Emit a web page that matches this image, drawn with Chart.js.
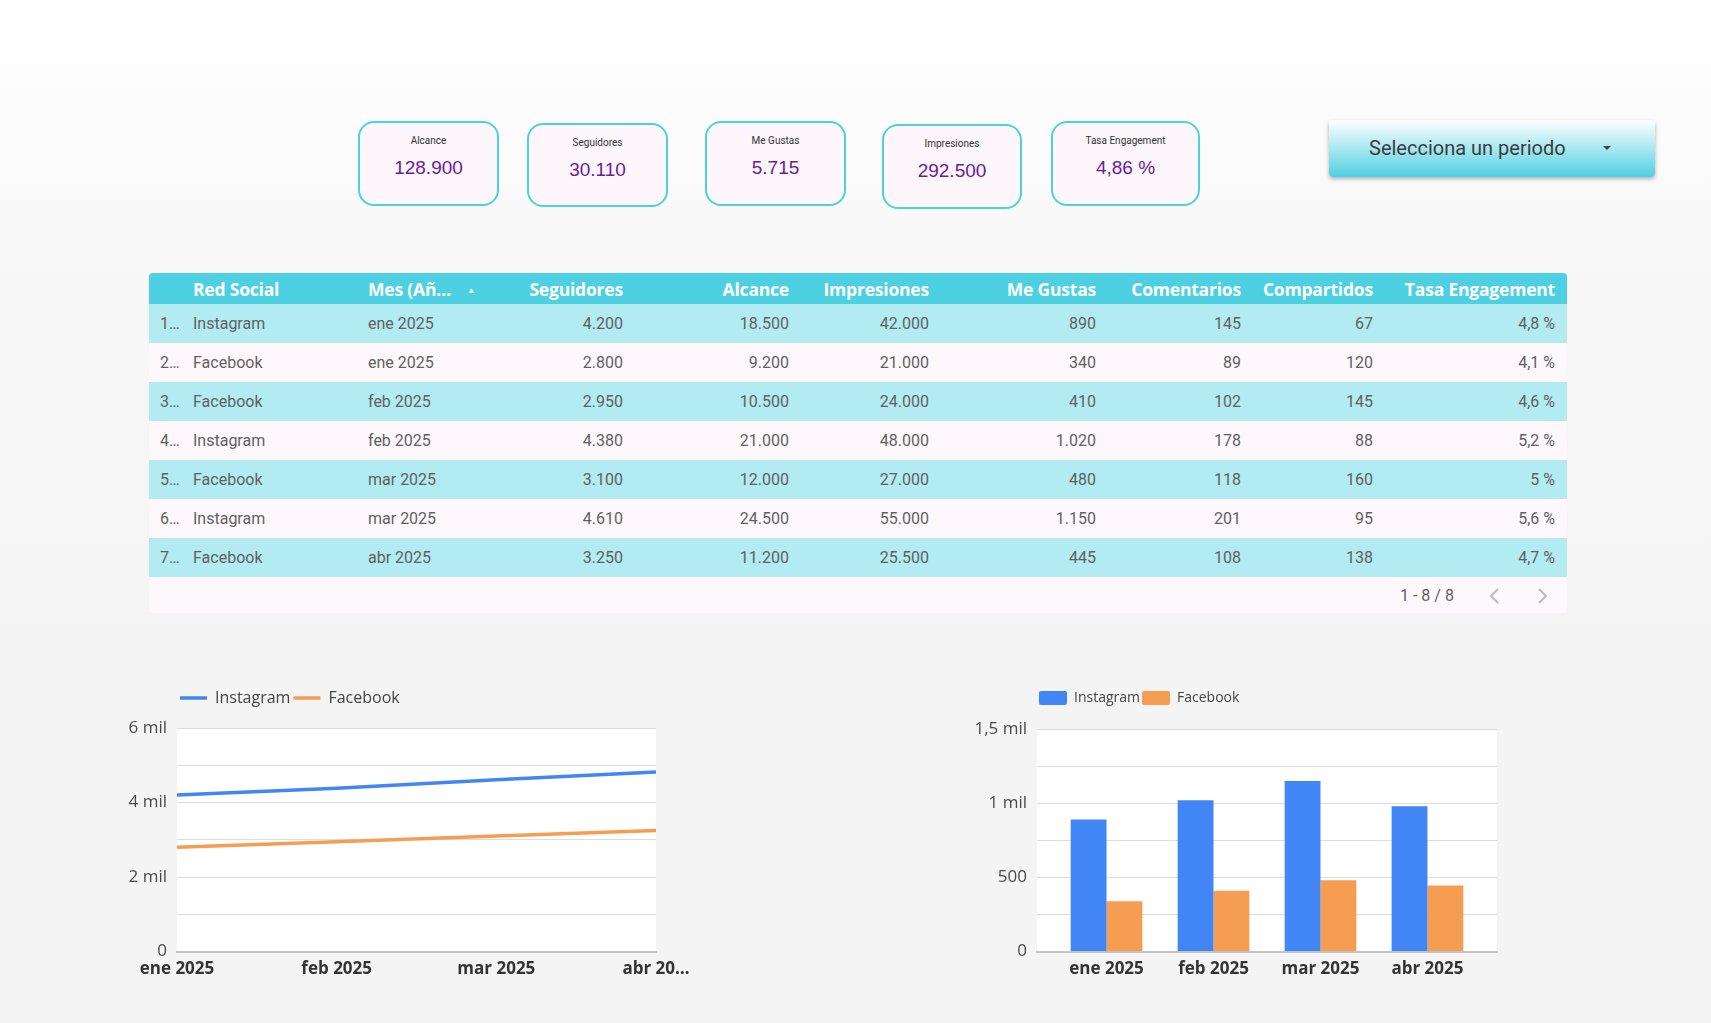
<!DOCTYPE html>
<html lang="es">
<head>
<meta charset="utf-8">
<script src="https://cdn.jsdelivr.net/npm/chart.js@4.4.1/dist/chart.umd.min.js"></script>
<style>
  html, body { margin: 0; padding: 0; }
  body {
    width: 1711px; height: 1023px; position: relative; overflow: hidden;
    background: linear-gradient(#ffffff 0px, #f7f7f7 300px, #f4f4f4 700px);
    font-family: Roboto, "Liberation Sans", sans-serif;
  }
  .kpi {
    position: absolute; box-sizing: border-box;
    border: 2px solid #4dd0e1; border-radius: 16px; background: #fdf6fb;
    text-align: center; color: #333;
  }
  .kpi .lbl { position: absolute; left: 0; right: 0; top: 12px; font-size: 10px; }
  .kpi .val { position: absolute; left: 0; right: 0; top: 34px; font-size: 19px; color: #6a1b9a;
    font-family: "Liberation Sans", Arial, sans-serif; }
  #periodo {
    position: absolute; left: 1329px; top: 120px; width: 326px; height: 57px;
    border-radius: 4px; background: linear-gradient(#ffffff, #4fd0e2);
    box-shadow: 0 2px 4px rgba(0,0,0,0.3);
    font-size: 20px; color: #3c3c3c;
  }
  #periodo span { position: absolute; left: 40px; top: 16px; }
  #periodo i { position: absolute; left: 274px; top: 26px; width: 0; height: 0;
    border-left: 4px solid transparent; border-right: 4px solid transparent; border-top: 4px solid #444; }
  #tabla {
    position: absolute; left: 149px; top: 273px; width: 1418px;
    border-collapse: collapse; font-size: 16px; color: #616161;
  }
  #tabla th {
    background: #4dd0e1; color: #fff; font-family: "Open Sans", sans-serif; font-weight: 700;
    font-size: 17.5px; height: 31px; padding: 0; white-space: nowrap; letter-spacing: -0.2px;
  }
  #tabla td { height: 39px; padding: 0; white-space: nowrap; }
  #tabla tr.alt td { background: #b2ebf2; }
  #tabla tr.blank td { background: #fef8fc; }
  #tabla .r { text-align: right; }
  #tabla .l { text-align: left; }
  #pie {
    position: absolute; left: 149px; top: 577px; width: 1418px; height: 36px;
    background: #fdf8fb; border-radius: 0 0 4px 4px; color: #616161; font-size: 16px;
  }
  .chartbox { position: absolute; }
</style>
</head>
<body>

<div id="kpis"></div>
<div id="periodo"><span>Selecciona un periodo</span><i></i></div>

<table id="tabla">
  <colgroup>
    <col style="width:44px"><col style="width:175px"><col style="width:130px"><col style="width:125px">
    <col style="width:166px"><col style="width:140px"><col style="width:167px"><col style="width:145px">
    <col style="width:132px"><col style="width:182px"><col style="width:12px">
  </colgroup>
  <thead><tr id="cab"></tr></thead>
  <tbody id="cuerpo"></tbody>
</table>
<div id="pie">
  <span style="position:absolute;left:1251px;top:9px">1 - 8 / 8</span>
  <svg style="position:absolute;left:1338px;top:10px" width="14" height="18"><polyline points="11,2 4,9 11,16" fill="none" stroke="#bbb" stroke-width="2"/></svg>
  <svg style="position:absolute;left:1387px;top:10px" width="14" height="18"><polyline points="3,2 10,9 3,16" fill="none" stroke="#bbb" stroke-width="2"/></svg>
</div>

<div class="chartbox" style="left:110px;top:687px;width:590px;height:299px"><canvas id="lineaSeguidores"></canvas></div>
<div class="chartbox" style="left:960px;top:689px;width:550px;height:297px"><canvas id="barrasMeGustas"></canvas></div>

<script>
// KPI cards
const kpiNombres = ["Alcance", "Seguidores", "Me Gustas", "Impresiones", "Tasa Engagement"];
const kpiValores = ["128.900", "30.110", "5.715", "292.500", "4,86 %"];

// table rows (7 visible rows)
const filaRed = ["Instagram", "Facebook", "Facebook", "Instagram", "Facebook", "Instagram", "Facebook"];
const filaMes = ["ene 2025", "ene 2025", "feb 2025", "feb 2025", "mar 2025", "mar 2025", "abr 2025"];
const filaSeguidores = ["4.200", "2.800", "2.950", "4.380", "3.100", "4.610", "3.250"];
const filaAlcance = ["18.500", "9.200", "10.500", "21.000", "12.000", "24.500", "11.200"];
const filaImpresiones = ["42.000", "21.000", "24.000", "48.000", "27.000", "55.000", "25.500"];
const filaMeGustas = ["890", "340", "410", "1.020", "480", "1.150", "445"];
const filaComentarios = ["145", "89", "102", "178", "118", "201", "108"];
const filaCompartidos = ["67", "120", "145", "88", "160", "95", "138"];
const filaTasa = ["4,8 %", "4,1 %", "4,6 %", "5,2 %", "5 %", "5,6 %", "4,7 %"];

// charts
const meses = ["ene 2025", "feb 2025", "mar 2025", "abr 2025"];
const instagramSeguidores = [4200, 4380, 4610, 4820];
const facebookSeguidores = [2800, 2950, 3100, 3250];
const instagramMeGustas = [890, 1020, 1150, 980];
const facebookMeGustas = [340, 410, 480, 445];

const azul = "#4285f4";
const naranja = "#f59e52";

// ---- KPI cards ----
const kpiBox = [
  [358, 121, 141, 85], [527, 123, 141, 84], [705, 121, 141, 85], [882, 124, 140, 85], [1051, 121, 149, 85]
];
const kpis = document.getElementById("kpis");
kpiNombres.forEach((n, i) => {
  const d = document.createElement("div");
  d.className = "kpi";
  const [x, y, w, h] = kpiBox[i];
  Object.assign(d.style, { left: x + "px", top: y + "px", width: w + "px", height: h + "px" });
  d.innerHTML = `<div class="lbl">${n}</div><div class="val">${kpiValores[i]}</div>`;
  kpis.appendChild(d);
});

// ---- table ----
const cab = document.getElementById("cab");
cab.innerHTML =
  '<th></th><th class="l">Red Social</th>' +
  '<th class="l">Mes (Añ… <span style="font-size:8px;margin-left:12px;vertical-align:3px">▲</span></th>' +
  '<th class="r">Seguidores</th><th class="r">Alcance</th><th class="r">Impresiones</th>' +
  '<th class="r">Me Gustas</th><th class="r">Comentarios</th><th class="r">Compartidos</th>' +
  '<th class="r">Tasa Engagement</th><th></th>';
cab.firstChild.style.borderTopLeftRadius = "4px";
cab.lastChild.style.borderTopRightRadius = "4px";

const cuerpo = document.getElementById("cuerpo");
filaRed.forEach((red, i) => {
  const tr = document.createElement("tr");
  tr.className = i % 2 === 0 ? "alt" : "blank";
  tr.innerHTML =
    `<td style="padding-left:11px">${i + 1}…</td><td>${red}</td><td>${filaMes[i]}</td>` +
    `<td class="r">${filaSeguidores[i]}</td><td class="r">${filaAlcance[i]}</td>` +
    `<td class="r">${filaImpresiones[i]}</td><td class="r">${filaMeGustas[i]}</td>` +
    `<td class="r">${filaComentarios[i]}</td><td class="r">${filaCompartidos[i]}</td>` +
    `<td class="r">${filaTasa[i]}</td><td></td>`;
  cuerpo.appendChild(tr);
});

// ---- charts ----
Chart.defaults.font.family = "'Open Sans', sans-serif";
Chart.defaults.color = "#444";

const fondoBlanco = {
  id: "fondoBlanco",
  beforeDraw(chart) {
    const { ctx, chartArea: a } = chart;
    ctx.save();
    ctx.fillStyle = "#ffffff";
    ctx.fillRect(a.left, a.top, a.right - a.left, a.bottom - a.top);
    ctx.restore();
  }
};

// extra space under the legend
const espacioLeyenda = gap => ({
  id: "espacioLeyenda",
  beforeInit(chart) {
    const fit = chart.legend.fit;
    chart.legend.fit = function () {
      fit.bind(chart.legend)();
      this.height += gap;
    };
  }
});

const ejeX = (extra) => Object.assign({
  grid: { display: false, drawTicks: false },
  border: { color: "#c4c4c4", width: 2 },
  ticks: { color: "#333", font: { size: 17, weight: "bold" }, padding: 7, maxRotation: 0, autoSkip: false },
}, extra);

const ejeY = (max, step, cb) => ({
  min: 0, max: max,
  border: { display: false },
  grid: { color: "#dcdcdc", drawTicks: false },
  ticks: { stepSize: step, font: { size: 17 }, padding: 10, color: "#4a4a4a", callback: cb },
});

// Seguidores (line)
const ySeg = ejeY(6000, 1000, v => v === 0 ? "0" : (v % 2000 === 0 ? v / 1000 + " mil" : ""));
ySeg.afterFit = s => { s.width = 67; };
new Chart(document.getElementById("lineaSeguidores"), {
  type: "line",
  data: {
    labels: meses,
    datasets: [
      { label: "Instagram", data: instagramSeguidores, borderColor: azul, backgroundColor: azul, borderWidth: 3.5, pointRadius: 0, tension: 0 },
      { label: "Facebook", data: facebookSeguidores, borderColor: naranja, backgroundColor: naranja, borderWidth: 3.5, pointRadius: 0, tension: 0 },
    ],
  },
  options: {
    responsive: true,
    maintainAspectRatio: false,
    animation: false,
    layout: { padding: { right: 44, left: 0, top: 0, bottom: 0 } },
    plugins: {
      legend: {
        fullSize: false, align: "start",
        labels: { usePointStyle: true, pointStyle: "line", pointStyleWidth: 27, font: { size: 16 }, padding: 3, color: "#444" },
      },
      tooltip: { enabled: false },
    },
    scales: {
      x: ejeX({ ticks: { color: "#333", font: { size: 17, weight: "bold" }, padding: 7, maxRotation: 0, autoSkip: false,
        callback: function (v, i) { const t = this.getLabelForValue(v); return i === meses.length - 1 ? t.slice(0, 6) + "…" : t; } } }),
      y: ySeg,
    },
  },
  plugins: [fondoBlanco, espacioLeyenda(12)],
});

// Me Gustas (bar)
const yGus = ejeY(1500, 250, v => v === 0 ? "0" : v === 500 ? "500" : v === 1000 ? "1 mil" : v === 1500 ? "1,5 mil" : "");
yGus.afterFit = s => { s.width = 77; };
const xGus = ejeX({
  // a bit of extra room at both ends of the category axis
  afterBuildTicks: s => { s._valueRange += 0.3; s._startValue -= 0.15; },
});
new Chart(document.getElementById("barrasMeGustas"), {
  type: "bar",
  data: {
    labels: meses,
    datasets: [
      { label: "Instagram", data: instagramMeGustas, backgroundColor: azul },
      { label: "Facebook", data: facebookMeGustas, backgroundColor: naranja },
    ],
  },
  options: {
    responsive: true,
    maintainAspectRatio: false,
    animation: false,
    layout: { padding: { right: 13 } },
    datasets: { bar: { categoryPercentage: 0.67, barPercentage: 1 } },
    plugins: {
      legend: {
        fullSize: false, align: "start",
        labels: { boxWidth: 28, boxHeight: 14, useBorderRadius: true, borderRadius: 2, font: { size: 14 }, padding: 2, color: "#444" },
      },
      tooltip: { enabled: false },
    },
    scales: { x: xGus, y: yGus },
  },
  plugins: [fondoBlanco, espacioLeyenda(14)],
});
</script>
</body>
</html>
